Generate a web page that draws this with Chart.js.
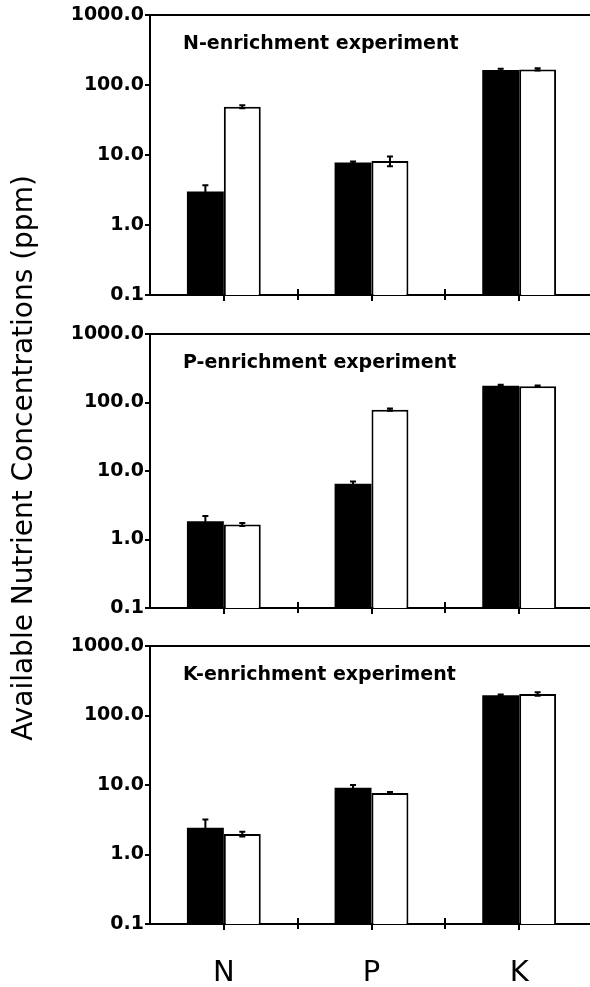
<!DOCTYPE html>
<html><head><meta charset="utf-8">
<script src="https://cdn.jsdelivr.net/npm/chart.js@4.4.1/dist/chart.umd.min.js"></script>
<style>
html,body{margin:0;padding:0;background:#fff;overflow:hidden;width:590px;height:987px;position:relative;}
canvas{position:absolute;left:0;}
#ytitle{position:absolute;left:-276.7px;top:444px;width:600px;height:28px;line-height:28px;text-align:center;
  font-family:'DejaVu Sans';font-size:28px;transform:rotate(-90deg);white-space:nowrap;color:#000;}
</style></head><body>
<canvas id="c1" width="600" height="314" style="top:1px"></canvas>
<canvas id="c2" width="600" height="308" style="top:320px"></canvas>
<canvas id="c3" width="600" height="355" style="top:632px"></canvas>
<div id="ytitle">Available Nutrient Concentrations (ppm)</div>
<script>
// ---- data ----
const categories = ['N', 'P', 'K'];
const panelTitles = ['N-enrichment experiment', 'P-enrichment experiment', 'K-enrichment experiment'];
const tickValues = [0.1, 1, 10, 100, 1000];
const tickLabels = ['0.1', '1.0', '10.0', '100.0', '1000.0'];

// N-enrichment experiment
const nExpBlack = [3.0, 7.8, 164];
const nExpWhite = [49, 8.2, 167];
const nExpBlackErr = [0.7, 0.3, 6];
const nExpWhiteErr = [2.5, 1.3, 6];
// P-enrichment experiment
const pExpBlack = [1.85, 6.5, 176];
const pExpWhite = [1.66, 78.5, 173];
const pExpBlackErr = [0.35, 0.5, 6];
const pExpWhiteErr = [0.08, 3, 4];
// K-enrichment experiment
const kExpBlack = [2.43, 9.1, 195];
const kExpWhite = [1.97, 7.7, 204];
const kExpBlackErr = [0.75, 0.9, 6];
const kExpWhiteErr = [0.15, 0.2, 12];

// ---- plugins ----
const errorBars = {
  id: 'errorBars',
  afterDatasetsDraw(chart) {
    const ctx = chart.ctx, y = chart.scales.y;
    chart.data.datasets.forEach((ds, di) => {
      const meta = chart.getDatasetMeta(di);
      meta.data.forEach((bar, i) => {
        const v = ds.data[i], e = ds.errors[i];
        const yTop = y.getPixelForValue(v + e), yBot = y.getPixelForValue(v - e);
        const x = bar.x;
        ctx.save();
        ctx.strokeStyle = '#000'; ctx.lineWidth = 2;
        ctx.beginPath();
        ctx.moveTo(x, yTop); ctx.lineTo(x, yBot);
        ctx.moveTo(x - 3, yTop); ctx.lineTo(x + 3, yTop);
        ctx.moveTo(x - 3, yBot); ctx.lineTo(x + 3, yBot);
        ctx.stroke();
        ctx.restore();
      });
    });
  }
};

const decor = {
  id: 'decor',
  afterDraw(chart, args, opts) {
    const ctx = chart.ctx, a = chart.chartArea, x = chart.scales.x;
    ctx.save();
    ctx.font = 'bold 19px "DejaVu Sans"';
    ctx.fillStyle = '#000';
    ctx.textBaseline = 'alphabetic';
    ctx.textAlign = 'left';
    ctx.fillText(opts.text, a.left + 33, a.top + 34);
    const half = (x.getPixelForValue(1) - x.getPixelForValue(0)) / 2;
    ctx.strokeStyle = '#000'; ctx.lineWidth = 2;
    ctx.beginPath();
    for (let i = 0; i < categories.length; i++) {
      const px = Math.round(x.getPixelForValue(i) + half);
      ctx.moveTo(px, a.bottom - 6); ctx.lineTo(px, a.bottom + 5);
    }
    ctx.stroke();
    ctx.restore();
  }
};

function makeChart(id, title, black, white, blackErr, whiteErr, showLabels, bottomH) {
  return new Chart(document.getElementById(id), {
    type: 'bar',
    data: {
      labels: categories,
      datasets: [
        { data: black, errors: blackErr, backgroundColor: '#000', borderColor: '#000', borderWidth: 0,
          categoryPercentage: 0.5, barPercentage: 1.0 },
        { data: white, errors: whiteErr, backgroundColor: '#fff', borderColor: '#000', borderWidth: 2,
          categoryPercentage: 0.5, barPercentage: 1.0 }
      ]
    },
    options: {
      responsive: false,
      animation: false,
      devicePixelRatio: 1,
      layout: { padding: { top: 14, left: 0, right: 7, bottom: 0 } },
      plugins: { legend: { display: false }, tooltip: { enabled: false }, title: { display: false },
                 decor: { text: title } },
      scales: {
        x: {
          type: 'category', position: 'bottom', offset: true,
          grid: { display: true, offset: false, drawOnChartArea: false, drawTicks: true, tickLength: 6,
                  color: '#000', lineWidth: 2 },
          border: { display: true, color: '#000', width: 2 },
          ticks: { display: showLabels, color: '#000', padding: 26, maxRotation: 0, autoSkip: false,
                   font: { family: 'DejaVu Sans', size: 29 } },
          afterFit: (s) => { s.height = bottomH; }
        },
        xTop: {
          type: 'category', position: 'top', offset: true,
          grid: { display: false, drawTicks: false },
          ticks: { display: false },
          border: { display: true, color: '#000', width: 2 },
          afterFit: (s) => { s.height = 0; }
        },
        y: {
          type: 'logarithmic', position: 'left', min: 0.1, max: 1000,
          grid: { drawOnChartArea: false, drawTicks: true, tickLength: 5, color: '#000', lineWidth: 2 },
          border: { display: true, color: '#000', width: 2 },
          ticks: { autoSkip: false, color: '#000', padding: 1,
                   font: { family: 'DejaVu Sans', size: 19, weight: 'bold' },
                   callback: (v) => tickLabels[tickValues.indexOf(v)] },
          afterBuildTicks: (s) => { s.ticks = tickValues.map(v => ({ value: v })); },
          afterFit: (s) => { s.width = 150; }
        }
      }
    },
    plugins: [errorBars, decor]
  });
}

makeChart('c1', panelTitles[0], nExpBlack, nExpWhite, nExpBlackErr, nExpWhiteErr, false, 20);
makeChart('c2', panelTitles[1], pExpBlack, pExpWhite, pExpBlackErr, pExpWhiteErr, false, 20);
makeChart('c3', panelTitles[2], kExpBlack, kExpWhite, kExpBlackErr, kExpWhiteErr, true, 63);
</script>
</body></html>
